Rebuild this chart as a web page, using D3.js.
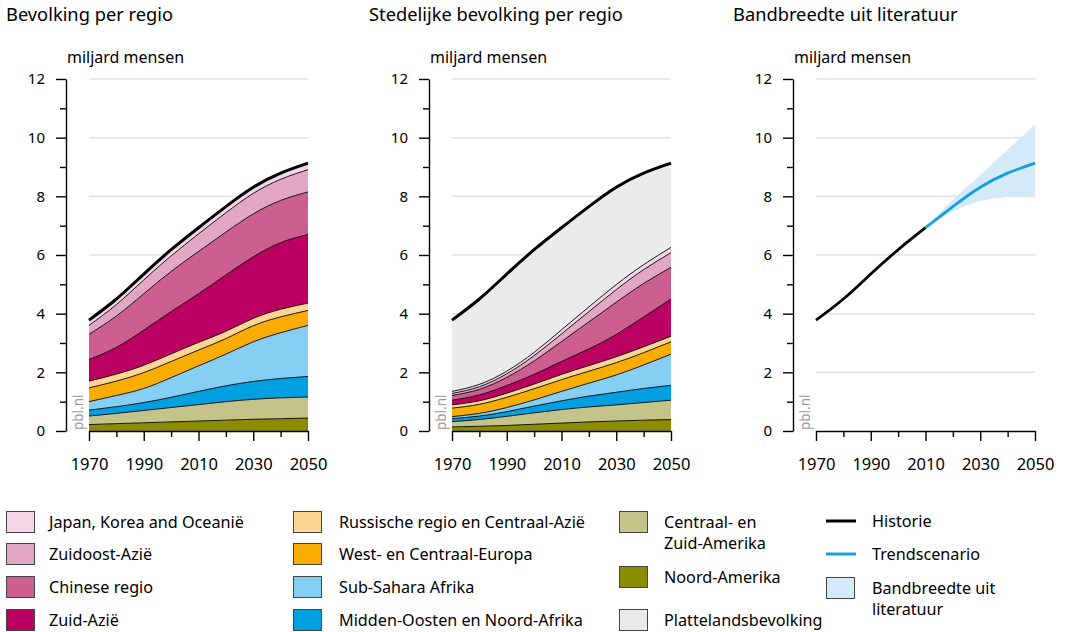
<!DOCTYPE html>
<html>
<head>
<meta charset="utf-8">
<script src="https://cdn.jsdelivr.net/npm/d3@7"></script>
<style>
  body { margin: 0; background: #fff; }
  svg { font-family: "Noto Sans", "Open Sans", sans-serif; }
</style>
</head>
<body>
<svg id="chart"></svg>
<script>
const w = 1066;
const h = 632;

const jaren = [1970, 1980, 1990, 2000, 2010, 2020, 2030, 2040, 2050];

// bevolking per regio, miljard mensen
const noordAmerika = [0.22, 0.25, 0.28, 0.31, 0.34, 0.37, 0.40, 0.42, 0.44];
const centraalZuidAmerika = [0.29, 0.35, 0.42, 0.49, 0.56, 0.63, 0.68, 0.71, 0.72];
const middenOosten = [0.20, 0.23, 0.27, 0.35, 0.45, 0.54, 0.61, 0.66, 0.70];
const subSahara = [0.29, 0.38, 0.48, 0.67, 0.87, 1.08, 1.35, 1.56, 1.74];
const westEuropa = [0.47, 0.49, 0.54, 0.55, 0.54, 0.53, 0.55, 0.54, 0.51];
const russisch = [0.23, 0.24, 0.25, 0.26, 0.26, 0.25, 0.25, 0.26, 0.25];
const zuidAzie = [0.74, 0.91, 1.20, 1.44, 1.66, 1.92, 2.10, 2.27, 2.34];
const chinees = [0.86, 1.07, 1.24, 1.37, 1.44, 1.46, 1.46, 1.44, 1.45];
const zuidoostAzie = [0.30, 0.39, 0.47, 0.53, 0.60, 0.66, 0.70, 0.72, 0.76];
const japanKorea = [0.18, 0.19, 0.20, 0.21, 0.21, 0.21, 0.21, 0.21, 0.22];

// stedelijke bevolking per regio
const stedNoordAmerika = [0.14, 0.16, 0.19, 0.23, 0.27, 0.31, 0.34, 0.37, 0.39];
const stedCentraalZuidAmerika = [0.18, 0.23, 0.31, 0.39, 0.46, 0.51, 0.55, 0.60, 0.66];
const stedMiddenOosten = [0.10, 0.12, 0.16, 0.23, 0.30, 0.37, 0.43, 0.48, 0.51];
const stedSubSahara = [0.07, 0.09, 0.14, 0.21, 0.32, 0.44, 0.59, 0.80, 1.06];
const stedWestEuropa = [0.29, 0.31, 0.35, 0.38, 0.40, 0.41, 0.42, 0.42, 0.42];
const stedRussisch = [0.11, 0.12, 0.14, 0.16, 0.18, 0.19, 0.20, 0.20, 0.19];
const stedZuidAzie = [0.16, 0.20, 0.26, 0.33, 0.44, 0.57, 0.76, 1.02, 1.27];
const stedChinees = [0.16, 0.19, 0.28, 0.46, 0.68, 0.92, 1.10, 1.14, 1.08];
const stedZuidoostAzie = [0.07, 0.09, 0.12, 0.18, 0.26, 0.35, 0.43, 0.47, 0.50];
const stedJapanKorea = [0.07, 0.08, 0.09, 0.11, 0.14, 0.16, 0.17, 0.17, 0.18];

// wereldtotaal
const totaal = [3.78, 4.50, 5.35, 6.18, 6.93, 7.65, 8.31, 8.79, 9.13];

// bandbreedte paneel
const historieJaren = [1970, 1980, 1990, 2000, 2010];
const historie = [3.78, 4.50, 5.35, 6.18, 6.93];
const trendJaren = [2010, 2020, 2030, 2040, 2050];
const trend = [6.93, 7.65, 8.31, 8.79, 9.13];
const bandLaag = [6.93, 7.48, 7.84, 7.98, 8.00];
const bandHoog = [6.93, 7.88, 8.73, 9.59, 10.44];

const yTicks = [0, 1, 2, 3, 4, 5, 6, 7, 8, 9, 10, 11, 12];
const xTicks = [1970, 1980, 1990, 2000, 2010, 2020, 2030, 2040, 2050];
const xLabels = [1970, 1990, 2010, 2030, 2050];

// regio's van onder naar boven
const regios = [
  { key: 'na', naam: 'Noord-Amerika', kleur: '#8c8c00', tot: noordAmerika, sted: stedNoordAmerika },
  { key: 'cza', naam: 'Centraal- en Zuid-Amerika', kleur: '#c4c48a', tot: centraalZuidAmerika, sted: stedCentraalZuidAmerika },
  { key: 'mona', naam: 'Midden-Oosten en Noord-Afrika', kleur: '#00a0e0', tot: middenOosten, sted: stedMiddenOosten },
  { key: 'ssa', naam: 'Sub-Sahara Afrika', kleur: '#86cff4', tot: subSahara, sted: stedSubSahara },
  { key: 'wce', naam: 'West- en Centraal-Europa', kleur: '#f8ad00', tot: westEuropa, sted: stedWestEuropa },
  { key: 'rus', naam: 'Russische regio en Centraal-Azië', kleur: '#fed592', tot: russisch, sted: stedRussisch },
  { key: 'za', naam: 'Zuid-Azië', kleur: '#bb0061', tot: zuidAzie, sted: stedZuidAzie },
  { key: 'cn', naam: 'Chinese regio', kleur: '#cc5f8f', tot: chinees, sted: stedChinees },
  { key: 'zoa', naam: 'Zuidoost-Azië', kleur: '#e2a7c3', tot: zuidoostAzie, sted: stedZuidoostAzie },
  { key: 'jko', naam: 'Japan, Korea and Oceanië', kleur: '#f4d5e5', tot: japanKorea, sted: stedJapanKorea }
];
const keys = regios.map(d => d.key);
const curve = d3.curveNatural;
const bandCurve = d3.curveCatmullRom.alpha(0.5);

const svg = d3.select('#chart')
  .attr('width', w)
  .attr('height', h);

const y = d3.scaleLinear().domain([0, 12]).range([431, 79]);

const makePanel = (axisX, titel) => {
  const x = d3.scaleLinear().domain([1970, 2050]).range([axisX + 23, axisX + 242]);
  const g = svg.append('g');

  g.append('text')
    .attr('x', axisX - 60)
    .attr('y', 21)
    .attr('font-size', 18.3)
    .attr('fill', '#000')
    .text(titel);

  g.append('text')
    .attr('x', axisX + 1)
    .attr('y', 63)
    .attr('font-size', 16)
    .text('miljard mensen');

  // gridlijnen
  g.selectAll('.grid')
    .data(yTicks.filter(d => d > 0 && d % 2 === 0))
    .join('line')
    .attr('x1', x(1970))
    .attr('x2', x(2050))
    .attr('y1', d => y(d))
    .attr('y2', d => y(d))
    .attr('stroke', '#e2e2e2')
    .attr('stroke-width', 1.5);

  const plot = g.append('g');

  // y-as
  const yAxis = d3.axisLeft(y)
    .tickValues(yTicks)
    .tickSize(6)
    .tickSizeOuter(0)
    .tickPadding(15)
    .tickFormat(d => d % 2 === 0 ? d : '');
  const yAxisGroup = g.append('g')
    .attr('transform', `translate(${axisX},0)`)
    .call(yAxis);
  yAxisGroup.selectAll('.tick line')
    .attr('x2', d => d % 2 === 0 ? -10 : -6);
  yAxisGroup.selectAll('text').attr('font-size', 15);

  // x-as
  const xAxis = d3.axisBottom(x)
    .tickValues(xTicks)
    .tickSize(6)
    .tickSizeOuter(0)
    .tickFormat(d => xLabels.includes(d) ? d : '');
  const xAxisGroup = g.append('g')
    .attr('transform', `translate(0,${y(0)})`)
    .call(xAxis);
  xAxisGroup.selectAll('.tick line')
    .attr('y2', d => xLabels.includes(d) ? 10 : 6);
  xAxisGroup.selectAll('.tick text')
    .attr('y', 27)
    .attr('dy', '0.71em')
    .attr('font-size', 16.5);

  [yAxisGroup, xAxisGroup].forEach(ax => {
    ax.selectAll('path, line').attr('stroke', '#000').attr('stroke-width', 1.4);
    ax.selectAll('text')
      .attr('font-family', '"Noto Sans", sans-serif')
      .attr('fill', '#000');
  });

  g.append('text')
    .attr('transform', `translate(${axisX + 17},${y(0) - 1}) rotate(-90)`)
    .attr('font-size', 13.5)
    .attr('fill', '#9a9a9a')
    .text('pbl.nl');

  return { x, plot };
};

const stackData = field => jaren.map((jaar, i) => {
  const row = { jaar };
  regios.forEach(r => { row[r.key] = r[field][i]; });
  return row;
});

const drawStack = (panel, rows) => {
  const series = d3.stack().keys(keys)(rows);
  const area = d3.area()
    .x(d => panel.x(d.data.jaar))
    .y0(d => y(d[0]))
    .y1(d => y(d[1]))
    .curve(curve);
  const top = d3.line()
    .x(d => panel.x(d.data.jaar))
    .y(d => y(d[1]))
    .curve(curve);

  panel.plot.selectAll('.layer')
    .data(series)
    .join('path')
    .attr('d', area)
    .attr('fill', (d, i) => regios[i].kleur);

  panel.plot.selectAll('.edge')
    .data(series)
    .join('path')
    .attr('d', top)
    .attr('fill', 'none')
    .attr('stroke', '#000')
    .attr('stroke-width', 0.9);

  return series;
};

const totaalLijn = panel => d3.line()
  .x((d, i) => panel.x(jaren[i]))
  .y(d => y(d))
  .curve(curve);

// paneel 1
const p1 = makePanel(66, 'Bevolking per regio');
drawStack(p1, stackData('tot'));
p1.plot.append('path')
  .attr('d', totaalLijn(p1)(totaal))
  .attr('fill', 'none')
  .attr('stroke', '#000')
  .attr('stroke-width', 3);

// paneel 2
const p2 = makePanel(429, 'Stedelijke bevolking per regio');
const stedRows = stackData('sted');
const stedSom = stedRows.map(r => d3.sum(keys, k => r[k]));
p2.plot.append('path')
  .attr('d', d3.area()
    .x((d, i) => p2.x(jaren[i]))
    .y0((d, i) => y(stedSom[i]))
    .y1(d => y(d))
    .curve(curve)(totaal))
  .attr('fill', '#ebebeb');
drawStack(p2, stedRows);
p2.plot.append('path')
  .attr('d', totaalLijn(p2)(totaal))
  .attr('fill', 'none')
  .attr('stroke', '#000')
  .attr('stroke-width', 3);

// paneel 3
const p3 = makePanel(793, 'Bandbreedte uit literatuur');
p3.plot.append('path')
  .attr('d', d3.area()
    .x((d, i) => p3.x(trendJaren[i]))
    .y0((d, i) => y(bandLaag[i]))
    .y1(d => y(d))
    .curve(bandCurve)(bandHoog))
  .attr('fill', '#d4eaf9');
p3.plot.append('path')
  .attr('d', d3.line()
    .x((d, i) => p3.x(historieJaren[i]))
    .y(d => y(d))
    .curve(curve)(historie))
  .attr('fill', 'none')
  .attr('stroke', '#000')
  .attr('stroke-width', 2.8);
p3.plot.append('path')
  .attr('d', d3.line()
    .x((d, i) => p3.x(trendJaren[i]))
    .y(d => y(d))
    .curve(curve)(trend))
  .attr('fill', 'none')
  .attr('stroke', '#14a0e0')
  .attr('stroke-width', 2.8);

// legenda
const legend = svg.append('g').attr('font-size', 16.2);
const byKey = k => regios.find(r => r.key === k);
const legendItems = [
  { col: 0, yc: 522, kleur: byKey('jko').kleur, tekst: [byKey('jko').naam] },
  { col: 0, yc: 554, kleur: byKey('zoa').kleur, tekst: [byKey('zoa').naam] },
  { col: 0, yc: 587, kleur: byKey('cn').kleur, tekst: [byKey('cn').naam] },
  { col: 0, yc: 620, kleur: byKey('za').kleur, tekst: [byKey('za').naam] },
  { col: 1, yc: 522, kleur: byKey('rus').kleur, tekst: [byKey('rus').naam] },
  { col: 1, yc: 554, kleur: byKey('wce').kleur, tekst: [byKey('wce').naam] },
  { col: 1, yc: 587, kleur: byKey('ssa').kleur, tekst: [byKey('ssa').naam] },
  { col: 1, yc: 620, kleur: byKey('mona').kleur, tekst: [byKey('mona').naam] },
  { col: 2, yc: 522, kleur: byKey('cza').kleur, tekst: ['Centraal- en', 'Zuid-Amerika'] },
  { col: 2, yc: 577, kleur: byKey('na').kleur, tekst: [byKey('na').naam] },
  { col: 2, yc: 620, kleur: '#ebebeb', tekst: ['Plattelandsbevolking'] },
  { col: 3, yc: 521, lijn: '#000', tekst: ['Historie'] },
  { col: 3, yc: 554, lijn: '#14a0e0', tekst: ['Trendscenario'] },
  { col: 3, yc: 588, kleur: '#d4eaf9', tekst: ['Bandbreedte uit', 'literatuur'] }
];
const colX = [6, 293, 619, 826];
const tekstX = [49, 339, 664, 872];

legendItems.forEach(item => {
  const x0 = colX[item.col];
  if (item.lijn) {
    legend.append('line')
      .attr('x1', x0)
      .attr('x2', x0 + 30)
      .attr('y1', item.yc)
      .attr('y2', item.yc)
      .attr('stroke', item.lijn)
      .attr('stroke-width', 3);
  } else {
    legend.append('rect')
      .attr('x', x0 + 0.5)
      .attr('y', item.yc - 10.5)
      .attr('width', 28)
      .attr('height', 21)
      .attr('fill', item.kleur)
      .attr('stroke', '#444')
      .attr('stroke-width', 1);
  }
  item.tekst.forEach((t, i) => {
    legend.append('text')
      .attr('x', tekstX[item.col])
      .attr('y', item.yc + i * 21)
      .attr('dy', '0.35em')
      .text(t);
  });
});
</script>
</body>
</html>
